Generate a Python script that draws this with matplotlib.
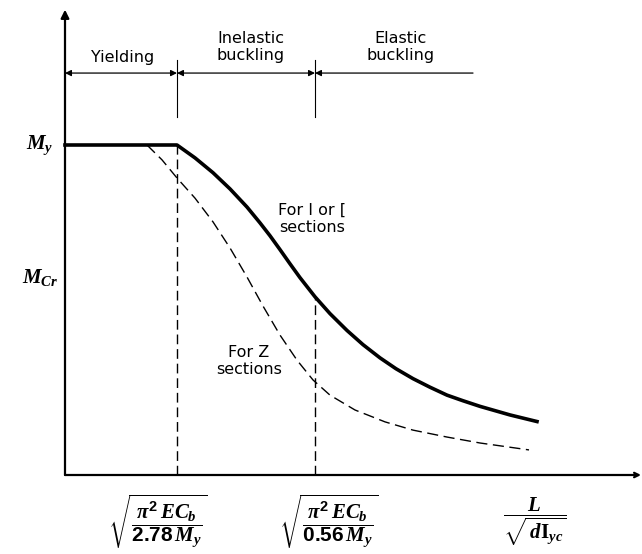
import numpy as np
import matplotlib
matplotlib.use("Agg")
import matplotlib.pyplot as plt

# mathtext: bold italic serif for the symbols, like the textbook figure
plt.rcParams['mathtext.fontset'] = 'custom'
plt.rcParams['mathtext.it'] = 'Liberation Serif:bold:italic'
plt.rcParams['mathtext.rm'] = 'Liberation Sans:bold'
plt.rcParams['mathtext.sf'] = 'Liberation Serif:bold'
plt.rcParams['font.family'] = ['DejaVu Sans']

# --- data (x: unbraced length parameter, y: M / My) ---
x_yield = 2.24        # sqrt(pi^2 E Cb / 2.78 My)
x_inel = 5.0          # sqrt(pi^2 E Cb / 0.56 My)
My = 1.0
Mcr_label = 0.60

# I or channel sections (solid)
x_I = [0.0, 2.24, 2.60, 2.96, 3.30, 3.64, 3.90, 4.10, 4.30, 4.50, 4.70,
       5.00, 5.30, 5.64, 5.96, 6.30, 6.62, 6.96, 7.30, 7.64, 7.96, 8.30, 8.90, 9.44]
y_I = [1.0, 1.0, 0.961, 0.916, 0.867, 0.812, 0.764, 0.725, 0.683, 0.640, 0.598,
       0.540, 0.489, 0.438, 0.395, 0.355, 0.322, 0.292, 0.266, 0.242, 0.225, 0.208, 0.182, 0.162]

# Z sections (dashed)
x_Z = [1.64, 1.94, 2.24, 2.60, 2.96, 3.30, 3.64, 3.96, 4.30, 4.64, 4.96,
       5.30, 5.80, 6.40, 6.96, 7.64, 8.30, 9.28]
y_Z = [1.0, 0.955, 0.900, 0.839, 0.767, 0.688, 0.600, 0.512, 0.424, 0.348, 0.288,
       0.242, 0.197, 0.161, 0.136, 0.115, 0.097, 0.076]

bracket_y = 1.218
bracket_end = 8.16
regions = ["Yielding", "Inelastic\nbuckling", "Elastic\nbuckling"]
region_x = [1.16, 3.72, 6.72]
region_y = [1.264, 1.298, 1.298]

xlabels = [r'$\sqrt{\dfrac{\pi^2\,EC_b}{2.78\,M_y}}$',
           r'$\sqrt{\dfrac{\pi^2\,EC_b}{0.56\,M_y}}$',
           r'$\dfrac{L}{\sqrt{\,d\mathsf{I}_{yc}}}$']
xlabel_x = [1.86, 5.28, 9.40]

# --- figure: 642 x 554 px, 50 px per x unit, 330 px per My ---
fig = plt.figure(figsize=(6.42, 5.54), dpi=100)
ax = fig.add_axes([0, 0, 1, 1])
ax.set_xlim(-65 / 50, (642 - 65) / 50)
ax.set_ylim(-(554 - 475) / 330, 475 / 330)
ax.axis('off')

# axes with arrows
ax.annotate('', xy=(0, 1.41), xytext=(0, 0),
            arrowprops=dict(arrowstyle='-|>', lw=1.6, color='black',
                            mutation_scale=12, shrinkA=0, shrinkB=0))
ax.annotate('', xy=(11.52, 0), xytext=(0, 0),
            arrowprops=dict(arrowstyle='->', lw=1.6, color='black',
                            mutation_scale=8, shrinkA=0, shrinkB=0))

# curves
ax.plot(x_I, y_I, color='black', lw=2.6, solid_joinstyle='round')
ax.plot(x_Z, y_Z, color='black', lw=1.0, dashes=(8, 4))

# vertical dashed limits
ax.plot([x_yield, x_yield], [0, My], color='black', lw=1.0, dashes=(7, 3.5))
ax.plot([x_inel, x_inel], [0, np.interp(x_inel, x_I, y_I)], color='black',
        lw=1.0, dashes=(7, 3.5))

# region bracket
edges = [0, x_yield, x_inel, bracket_end]
styles = ['<|-|>', '<|-|>', '<|-']
for a, b, st in zip(edges[:-1], edges[1:], styles):
    ax.annotate('', xy=(b, bracket_y), xytext=(a, bracket_y),
                arrowprops=dict(arrowstyle=st, lw=0.9, color='black',
                                mutation_scale=9, shrinkA=0, shrinkB=0))
for xt in [x_yield, x_inel]:
    ax.plot([xt, xt], [1.085, 1.258], color='black', lw=0.8)
for txt, xt, yt in zip(regions, region_x, region_y):
    ax.text(xt, yt, txt, ha='center', va='center', fontsize=11.5,
            linespacing=1.15)

# y labels
ax.text(-0.5, My, r'$M_y$', ha='center', va='center', fontsize=15)
ax.text(-0.5, Mcr_label, r'$M_{Cr}$', ha='center', va='center', fontsize=15)

# curve labels
ax.text(4.94, 0.776, "For I or [\nsections", ha='center', va='center',
        fontsize=11.5, linespacing=1.2)
ax.text(3.68, 0.345, "For Z\nsections", ha='center', va='center',
        fontsize=11.5, linespacing=1.2)

# x labels
for lab, xl in zip(xlabels, xlabel_x):
    ax.text(xl, -0.142, lab, ha='center', va='center', fontsize=15)

fig.savefig('out.png', dpi=100)
